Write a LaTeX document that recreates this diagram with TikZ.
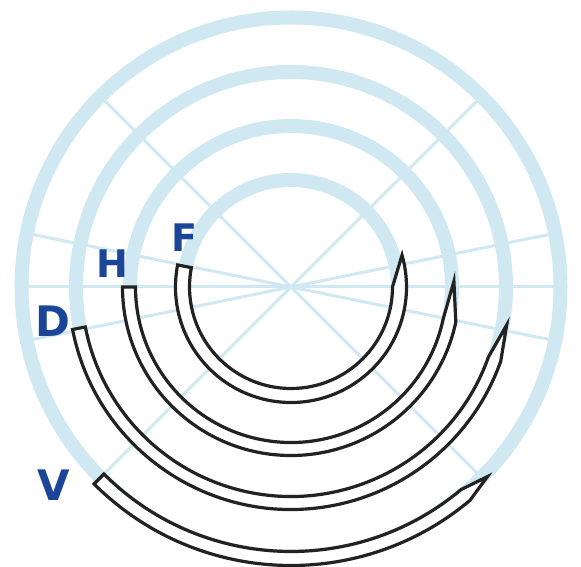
\documentclass[tikz,border=0pt]{standalone}
\usepackage{fontspec}
\setmainfont{DejaVu Sans}
\usepackage{xcolor}
\usepackage{tikz}
\definecolor{RRing}{HTML}{D0E8F1}
\definecolor{RInk}{HTML}{222222}
\definecolor{RBlue}{HTML}{1B4596}

\begin{document}
\begin{tikzpicture}[
  x=1pt, y=1pt,
  ring/.style={draw=RRing, line width=14pt},
  spoke/.style={draw=RRing, line width=3pt},
  band/.style={draw=RInk, fill=white, line width=3.2pt, line join=miter},
  tag/.style={text=RBlue, font=\bfseries\fontsize{38}{38}\selectfont,
              inner sep=0pt},
  bigtag/.style={tag, font=\bfseries\fontsize{42}{42}\selectfont},
]
\useasboundingbox (-291,-280) rectangle (290,287);

% ── spokes and rings ─────────────────────────────────────────────────────
\foreach \a in {0, 45, 135, 11.5, -11.5}
  \draw[spoke] (\a:269.5) -- (\a+180:269.5);
\foreach \r in {107, 161, 215, 269.5}
  \draw[ring] (0,0) circle[radius=\r];

% ── bands, inner to outer ────────────────────────────────────────────────
\draw[band] (169:115.5) arc[start angle=169, end angle=376, radius=115.5]
  -- (360:101.5) arc[start angle=360, end angle=169, radius=101.5] -- cycle;
\draw[band] (180:168.5) arc[start angle=180, end angle=348, radius=168.5]
  -- (362:163) -- (348:155.5)
  arc[start angle=348, end angle=180, radius=155.5] -- cycle;
\draw[band] (191:222.5) arc[start angle=191, end angle=340.5, radius=222.5]
  -- (350:219) -- (340.5:209.5)
  arc[start angle=340.5, end angle=191, radius=209.5] -- cycle;
\draw[band] (225:278.5) arc[start angle=225, end angle=310, radius=278.5]
  -- (316:273) -- (310:264.5)
  arc[start angle=310, end angle=225, radius=264.5] -- cycle;

% ── letters ──────────────────────────────────────────────────────────────
\node[tag]    (lf) at (-107, 49.5)   {F};
\node[tag]    (lh) at (-179, 23)     {H};
\node[bigtag] (ld) at (-238.5, -34)  {D};
\node[bigtag] (lv) at (-237.5, -198) {V};

\end{tikzpicture}
\end{document}
